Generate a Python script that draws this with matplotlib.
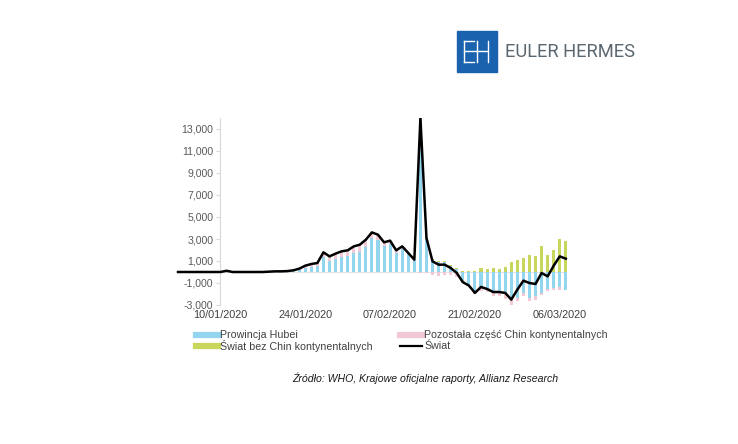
import matplotlib
matplotlib.use('Agg')
import matplotlib.pyplot as plt
from matplotlib.lines import Line2D
from matplotlib.patches import Rectangle
import numpy as np

plt.rcParams['font.family'] = ['Liberation Sans', 'DejaVu Sans']

# day index: 0 = 10/01/2020, data from 03/01 to 07/03
days = np.arange(-7, 58)

tick_days = [0, 14, 28, 42, 56]
tick_labels = ['10/01/2020', '24/01/2020', '07/02/2020', '21/02/2020', '06/03/2020']

y_ticks = [-3000, -1000, 1000, 3000, 5000, 7000, 9000, 11000, 13000]

# Prowincja Hubei
hubei = [0] * 17 + [20, 50, 100,
         190, 400, 500, 540, 1400, 1000, 1200, 1350, 1440, 1750,
         1850, 2300, 3070, 2910, 2320, 2520, 1740, 2100, 1600, 1090,
         13950, 3100, 1100, 900, 880, 575, 270, -800, -1100, -1750,
         -1450, -1500, -1800, -1750, -2000, -2500, -2350, -1900, -2350, -2200,
         -1900, -1550, -1450, -1360, -1600]

# Pozostała część Chin kontynentalnych
reszta_chin = [0] * 20 + [80, 150, 200, 250, 350, 400, 450, 500, 500, 550,
               600, 600, 500, 450, 350, 300, 200, 200, 100, 0,
               -100, -100, -250, -350, -300, -300, -450, -200, -200, -250,
               -300, -350, -400, -400, -450, -900, -300, -300, -300, -300,
               -200, -150, -200, -250, -50]

# Świat bez Chin kontynentalnych
swiat_bez_chin = [0] * 20 + [10, 10, 20, 20, 30, 30, 30, 30, 30, 30,
                  30, 30, 30, 30, 30, 30, 30, 30, 30, 30,
                  50, 60, 80, 100, 80, 100, 80, 80, 80, 100,
                  364, 270, 364, 300, 424, 940, 1060, 1270, 1575, 1480,
                  2390, 1575, 2030, 3030, 2850]

# Świat
swiat = [0, 0, 0, 0, 0, 0, 0,
         0, 110, 0, 0, 0, 0, 0, 0, 30, 60, 60, 80, 150,
         300, 575, 727, 818, 1790, 1420, 1670, 1880, 1970, 2330,
         2480, 2940, 3600, 3390, 2700, 2850, 1970, 2330, 1730, 1120,
         14000, 3090, 970, 667, 667, 364, -90, -920, -1230, -1900,
         -1360, -1545, -1820, -1820, -1900, -2510, -1600, -790, -1000, -1090,
         -90, -394, 575, 1420, 1210]

series = [
    ('Prowincja Hubei', hubei, '#93d4ef'),
    ('Pozostała część Chin kontynentalnych', reszta_chin, '#f3c8d5'),
    ('Świat bez Chin kontynentalnych', swiat_bez_chin, '#c9d65c'),
]

fig = plt.figure(figsize=(7.38, 4.44), dpi=100)
W, H = 738, 444


def fx(px):
    return px / W


def fy(py):
    return 1 - py / H


x0, x1 = -7.5, 60
ax = fig.add_axes([fx(175), fy(305), fx(584) - fx(175), fy(118) - fy(305)])

# stacked columns, positives up and negatives down like Excel
pos_base = np.zeros(len(days))
neg_base = np.zeros(len(days))
for name, vals, col in series:
    v = np.array(vals, dtype=float)
    bottom = np.where(v >= 0, pos_base, neg_base)
    ax.bar(days, v, width=0.5, bottom=bottom, color=col, linewidth=0, zorder=2)
    pos_base += np.where(v >= 0, v, 0)
    neg_base += np.where(v < 0, v, 0)

ax.plot([0, days[-1]], [0, 0], color='#e3e3e3', lw=0.8, zorder=1)
ax.plot(days, swiat, color='black', lw=1.8, zorder=3)

ax.set_xlim(x0, x1)
ax.set_ylim(-3000, 14000)

for s in ['top', 'right', 'bottom']:
    ax.spines[s].set_visible(False)
ax.spines['left'].set_position(('data', 0))
ax.spines['left'].set_color('#d9d9d9')
ax.spines['left'].set_linewidth(0.8)

ax.set_yticks(y_ticks)
ax.set_yticklabels([f'{t:,}' for t in y_ticks])
ax.tick_params(axis='y', length=3, color='#d9d9d9', labelsize=7.6,
               labelcolor='#595959', pad=2)
ax.set_xticks(tick_days)
ax.set_xticklabels(tick_labels)
ax.tick_params(axis='x', length=0, labelsize=7.8, labelcolor='#404040', pad=3.5)

# legend, drawn by hand to sit like the original
legend_rows = [
    (196, 335, 'Prowincja Hubei', '#93d4ef', 4.5),
    (400, 335, 'Pozostała część Chin kontynentalnych', '#f3c8d5', 4.5),
    (196, 346, 'Świat bez Chin kontynentalnych', '#c9d65c', 4.5),
    (400, 346, 'Świat', 'black', 1.6),
]
for px, py, label, col, lw in legend_rows:
    fig.add_artist(Line2D([fx(px), fx(px + 22)], [fy(py), fy(py)], color=col,
                          lw=lw, transform=fig.transFigure))
    fig.text(fx(px + 24), fy(py), label, fontsize=7.7, color='#404040',
             va='center', ha='left')

fig.text(fx(292), fy(378), 'Źródło: WHO, Krajowe oficjalne raporty, Allianz Research',
         fontsize=7.6, style='italic', color='#1a1a1a', va='center', ha='left')

# logo
fig.add_artist(Rectangle((fx(457), fy(72)), fx(40), fy(31) - fy(72),
                         color='#1a62ad', transform=fig.transFigure))
logo_lines = [
    ([464, 464], [41, 62]), ([464, 474], [41, 41]), ([464, 474], [62, 62]),
    ([464, 487], [51.5, 51.5]), ([477, 477], [41, 62]), ([488, 488], [41, 62]),
]
for xs, ys in logo_lines:
    fig.add_artist(Line2D([fx(v) for v in xs], [fy(v) for v in ys], color='white',
                          lw=1.0, transform=fig.transFigure))
fig.text(fx(505), fy(52), 'EULER HERMES', fontsize=13.2, family='Roboto',
         color='#5b6770', va='center', ha='left')

fig.savefig('out.png', dpi=100, facecolor='white')
